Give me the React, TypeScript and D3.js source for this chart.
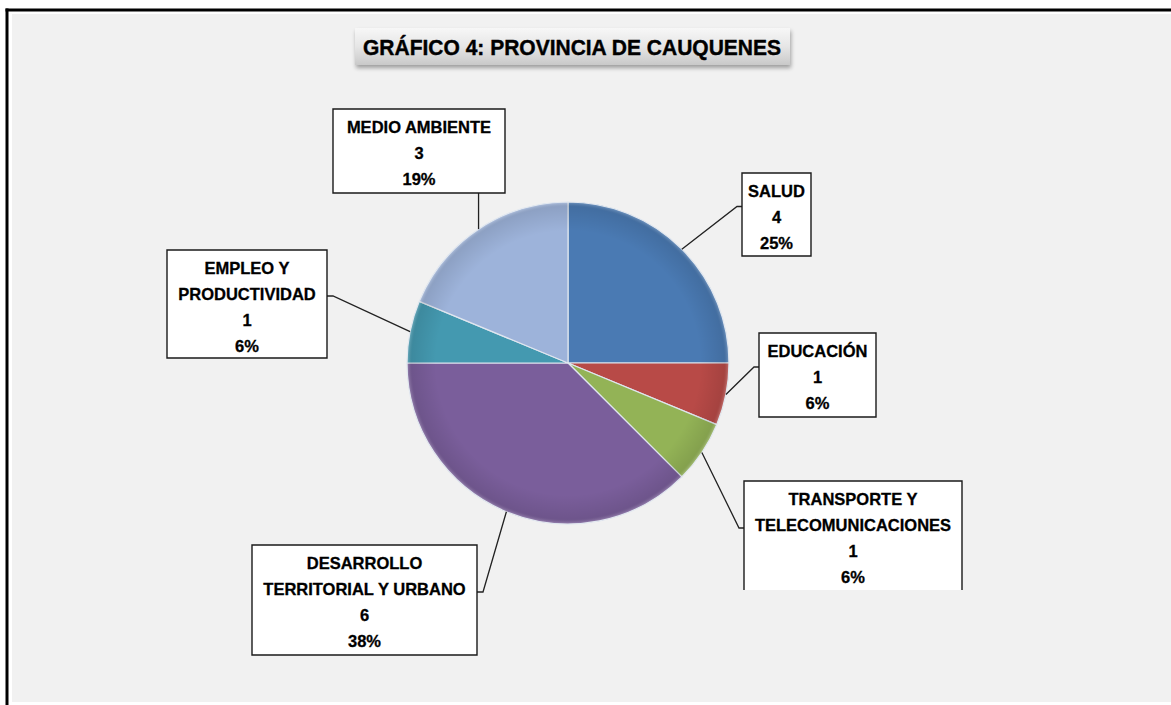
import React from "react";
import * as d3 from "d3";

const titleText = "GRÁFICO 4: PROVINCIA DE CAUQUENES";
const categories = [
  "SALUD",
  "EDUCACIÓN",
  "TRANSPORTE Y TELECOMUNICACIONES",
  "DESARROLLO TERRITORIAL Y URBANO",
  "EMPLEO Y PRODUCTIVIDAD",
  "MEDIO AMBIENTE",
];
const labelLines = [
  ["SALUD"],
  ["EDUCACIÓN"],
  ["TRANSPORTE Y", "TELECOMUNICACIONES"],
  ["DESARROLLO", "TERRITORIAL Y URBANO"],
  ["EMPLEO Y", "PRODUCTIVIDAD"],
  ["MEDIO AMBIENTE"],
];
const values = [4, 1, 1, 6, 1, 3];
const colors = ["#4a7ab3", "#b84a47", "#93b356", "#7a5e9b", "#4499b0", "#9db3da"];

// layout of label boxes: x, y, width, height, leader type
const boxLayout = [
  { x: 742, y: 173, w: 69, h: 83, side: "left", clipBottom: null as number | null },
  { x: 759, y: 333, w: 117, h: 84, side: "left", clipBottom: null },
  { x: 744, y: 481, w: 218, h: 110, side: "left", clipBottom: 590 },
  { x: 252, y: 545, w: 225, h: 110, side: "right", clipBottom: null },
  { x: 167, y: 250, w: 160, h: 108, side: "right", clipBottom: null },
  { x: 333, y: 109, w: 172, h: 84, side: "bottom", clipBottom: null },
];

const W = 1171;
const H = 705;
const cx = 568;
const cy = 363;
const R = 161;
const FONT = "'Liberation Sans', Arial, sans-serif";

export default function App() {
  const total = d3.sum(values);
  const pie = d3
    .pie<number>()
    .sort(null)
    .startAngle(0)
    .endAngle(2 * Math.PI)
    .value((d) => d);
  const arcs = pie(values);
  const arc = d3.arc<d3.PieArcDatum<number>>().innerRadius(0).outerRadius(R);
  const pct = d3.format(".0%");

  return (
    <div style={{ position: "absolute", left: 0, top: 0 }}>
      <svg width={W} height={H} style={{ display: "block" }}>
        <defs>
          <linearGradient id="titleGrad" x1="0" y1="0" x2="0" y2="1">
            <stop offset="0" stopColor="#f7f7f7" />
            <stop offset="0.5" stopColor="#e6e6e6" />
            <stop offset="1" stopColor="#c9c9c9" />
          </linearGradient>
          <filter id="shadow" x="-10%" y="-20%" width="130%" height="160%">
            <feGaussianBlur in="SourceAlpha" stdDeviation="2" />
            <feOffset dx="1" dy="3" result="b" />
            <feComponentTransfer>
              <feFuncA type="linear" slope="0.35" />
            </feComponentTransfer>
            <feMerge>
              <feMergeNode />
              <feMergeNode in="SourceGraphic" />
            </feMerge>
          </filter>
          <radialGradient id="pieShade" gradientUnits="userSpaceOnUse" cx={cx} cy={cy} r={R}>
            <stop offset="0.82" stopColor="#000" stopOpacity="0" />
            <stop offset="0.97" stopColor="#000" stopOpacity="0.1" />
            <stop offset="1" stopColor="#fff" stopOpacity="0.25" />
          </radialGradient>
        </defs>

        {/* frame */}
        <rect x={0} y={0} width={W} height={H} fill="#ffffff" />
        <rect x={12} y={14} width={W - 12} height={688} fill="#f1f1f1" />
        <line x1={7} y1={8.5} x2={7} y2={H} stroke="#000" strokeWidth={3} />
        <line x1={5.5} y1={10} x2={W} y2={10} stroke="#000" strokeWidth={3} />

        {/* title */}
        <g filter="url(#shadow)">
          <rect x={355} y={28} width={435} height={37} fill="url(#titleGrad)" />
        </g>
        <text
          x={572}
          y={55}
          textAnchor="middle"
          fontFamily={FONT}
          fontWeight="bold"
          fontSize={22}
          textLength={418}
          lengthAdjust="spacingAndGlyphs"
          fill="#000"
          stroke="#000"
          strokeWidth={0.4}
        >
          {titleText}
        </text>

        {/* pie */}
        <g transform={`translate(${cx},${cy})`}>
          {arcs.map((a, i) => (
            <path
              key={categories[i]}
              d={arc(a) || ""}
              fill={colors[i]}
              stroke="#dfe6ef"
              strokeWidth={1.2}
              strokeLinejoin="round"
            />
          ))}
        </g>
        <circle cx={cx} cy={cy} r={R} fill="url(#pieShade)" />

        {/* leaders */}
        {arcs.map((a, i) => {
          const mid = (a.startAngle + a.endAngle) / 2;
          const px = cx + R * Math.sin(mid);
          const py = cy - R * Math.cos(mid);
          const b = boxLayout[i];
          let pts: [number, number][];
          if (b.side === "bottom") {
            pts = [
              [px, py],
              [px, b.y + b.h],
            ];
          } else if (b.side === "left") {
            const ly = b.y + b.h / 2 - 8;
            pts = [
              [px, py],
              [b.x - 5, ly],
              [b.x, ly],
            ];
          } else {
            const ly = b.y + b.h / 2 - 8;
            pts = [
              [px, py],
              [b.x + b.w + 6, ly],
              [b.x + b.w, ly],
            ];
          }
          return (
            <path
              key={"l" + i}
              d={d3.line()(pts) || ""}
              fill="none"
              stroke="#222"
              strokeWidth={1.3}
            />
          );
        })}

        {/* label boxes */}
        {boxLayout.map((b, i) => {
          const lines = [...labelLines[i], String(values[i]), pct(values[i] / total)];
          const bottom = b.clipBottom ?? b.y + b.h;
          const boxPath =
            b.clipBottom != null
              ? `M${b.x},${bottom}V${b.y}H${b.x + b.w}V${bottom}`
              : `M${b.x},${b.y}H${b.x + b.w}V${bottom}H${b.x}Z`;
          return (
            <g key={"b" + i}>
              <rect x={b.x} y={b.y} width={b.w} height={bottom - b.y} fill="#fff" />
              <path d={boxPath} fill="none" stroke="#1a1a1a" strokeWidth={1.4} />
              {lines.map((t, j) => (
                <text
                  key={j}
                  x={b.x + b.w / 2}
                  y={b.y + 18 + j * 26}
                  dy="0.35em"
                  textAnchor="middle"
                  fontFamily={FONT}
                  fontWeight="bold"
                  fontSize={16.5}
                  fill="#000"
                  stroke="#000"
                  strokeWidth={0.3}
                >
                  {t}
                </text>
              ))}
            </g>
          );
        })}
      </svg>
    </div>
  );
}
